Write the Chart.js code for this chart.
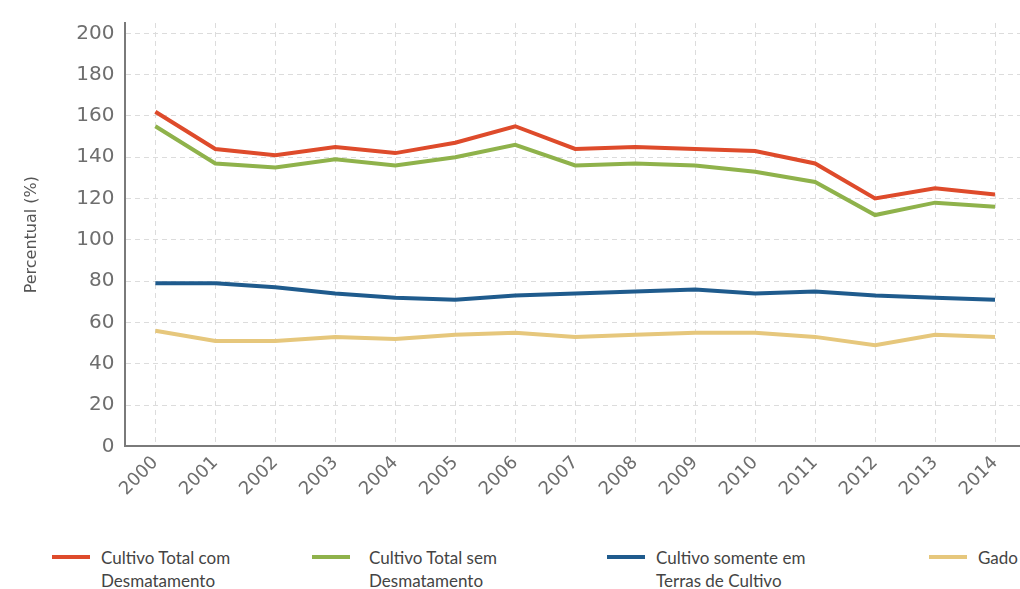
<!DOCTYPE html>
<html lang="pt-BR">
<head>
<meta charset="utf-8">
<title>Percentual por ano</title>
<script src="https://cdn.jsdelivr.net/npm/chart.js@4/dist/chart.umd.min.js"></script>
<style>
  html, body { margin: 0; padding: 0; background: #fff; overflow: hidden; }
  #wrap { position: relative; width: 1020px; height: 589px; overflow: hidden; }
  #box { position: absolute; left: 0; top: 0; width: 1040px; height: 506px; }
  .leg { position: absolute; top: 546px; font-family: Lato, "Liberation Sans", sans-serif;
         font-size: 17px; line-height: 23px; color: #444; }
  .leg i { position: absolute; top: 9px; width: 38px; height: 4px; }
  .leg span { position: absolute; white-space: nowrap; }
</style>
</head>
<body>
<div id="wrap">
  <div id="box"><canvas id="mainChart"></canvas></div>
  <div id="legend"></div>
</div>
<script>
// ── dados ──────────────────────────────
const anos = ['2000','2001','2002','2003','2004','2005','2006','2007',
              '2008','2009','2010','2011','2012','2013','2014'];

const totalComDesmatamento = [162,144,141,145,142,147,155,144,145,144,143,137,120,125,122];
const totalSemDesmatamento = [155,137,135,139,136,140,146,136,137,136,133,128,112,118,116];
const somenteTerrasCultivo = [79,79,77,74,72,71,73,74,75,76,74,75,73,72,71];
const gado                 = [56,51,51,53,52,54,55,53,54,55,55,53,49,54,53];

const nomes = [
  ['Cultivo Total com', 'Desmatamento'],
  ['Cultivo Total sem', 'Desmatamento'],
  ['Cultivo somente em', 'Terras de Cultivo'],
  ['Gado'],
];
const cores = ['#de4b2b', '#8fb24b', '#1f5b8d', '#e6c77c'];
const yTicks = [0,20,40,60,80,100,120,140,160,180,200];

// ── gráfico ────────────────────────────
const series = [totalComDesmatamento, totalSemDesmatamento, somenteTerrasCultivo, gado];

const ctx = document.getElementById('mainChart');

new Chart(ctx, {
  type: 'line',
  data: {
    labels: anos,
    datasets: series.map((d, i) => ({
      label: nomes[i].join(' '),
      data: d,
      borderColor: cores[i],
      borderWidth: 4,
      pointRadius: 0,
      tension: 0,
      fill: false,
    })),
  },
  options: {
    responsive: true,
    maintainAspectRatio: false,
    animation: false,
    layout: { padding: { left: 22, right: 15, top: 1, bottom: 0 } },
    plugins: {
      legend: { display: false },
      tooltip: { enabled: false },
    },
    scales: {
      x: {
        offset: true,
        grid: { color: '#dcdcdc', lineWidth: 1, drawTicks: false },
        border: { color: '#7a7a7a', width: 2, dash: [5, 4] },
        ticks: {
          color: '#6e6e6e',
          font: { family: '"DejaVu Sans", sans-serif', size: 18 },
          maxRotation: 45,
          minRotation: 45,
          padding: 6,
        },
      },
      y: {
        min: 0,
        max: 205,
        afterBuildTicks: (axis) => {
          axis.ticks = yTicks.map(v => ({ value: v }));
        },
        grid: { color: '#dcdcdc', lineWidth: 1, drawTicks: false },
        border: { color: '#7a7a7a', width: 2, dash: [5, 4] },
        ticks: {
          color: '#6e6e6e',
          font: { family: '"DejaVu Sans", sans-serif', size: 20 },
          padding: 11,
        },
        title: {
          display: true,
          text: 'Percentual (%)',
          color: '#555',
          font: { family: '"DejaVu Sans", sans-serif', size: 16 },
          padding: { top: 0, bottom: 24 },
        },
      },
    },
  },
});

// ── legenda ────────────────────────────
const legendaX = [52, 312, 607, 929];
const textoX   = [101, 369, 656, 978];
const legendEl = document.getElementById('legend');

nomes.forEach((linhas, i) => {
  const item = document.createElement('div');
  item.className = 'leg';
  item.style.left = legendaX[i] + 'px';

  const sw = document.createElement('i');
  sw.style.left = '0px';
  sw.style.background = cores[i];
  item.appendChild(sw);

  const txt = document.createElement('span');
  txt.style.left = (textoX[i] - legendaX[i]) + 'px';
  txt.innerHTML = linhas.join('<br>');
  item.appendChild(txt);

  legendEl.appendChild(item);
});
</script>
</body>
</html>
